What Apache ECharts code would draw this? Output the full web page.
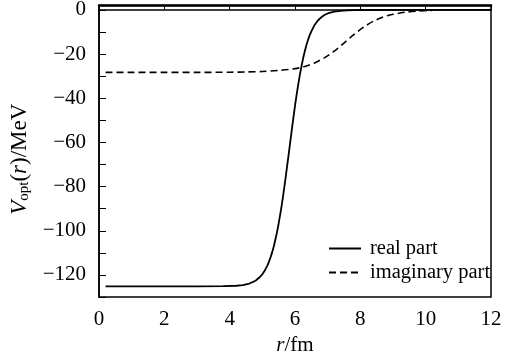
<!DOCTYPE html>
<html>
<head>
<meta charset="utf-8">
<script src="https://cdn.jsdelivr.net/npm/echarts@6/dist/echarts.min.js"></script>
<style>
  html, body { margin: 0; padding: 0; background: #fff; }
  #chart { width: 508px; height: 356px; }
</style>
</head>
<body>
<div id="chart"></div>
<script>
// real part of the optical potential
const rReal = [0.2, 1, 2, 3, 3.8, 4.2, 4.4, 4.6, 4.7, 4.8, 4.9, 5.0, 5.05, 5.1, 5.15, 5.2, 5.25, 5.3, 5.35, 5.4, 5.45, 5.5, 5.55, 5.6, 5.65, 5.7, 5.75, 5.8, 5.85, 5.9, 5.95, 6.0, 6.05, 6.1, 6.15, 6.2, 6.25, 6.3, 6.35, 6.4, 6.45, 6.5, 6.6, 6.7, 6.8, 6.9, 7.0, 7.2, 7.4, 7.6, 7.8, 8.0, 9, 10, 11, 12];
const vReal = [-125.2, -125.2, -125.2, -125.2, -125.1, -124.9, -124.6, -123.9, -123.3, -122.5, -121.3, -119.7, -118.6, -117.3, -115.9, -114.1, -112.1, -109.8, -107.1, -104.0, -100.6, -96.7, -92.4, -87.8, -82.7, -77.4, -71.8, -66.1, -60.3, -54.5, -48.9, -43.5, -38.4, -33.7, -29.3, -25.4, -21.8, -18.7, -15.9, -13.5, -11.4, -9.7, -6.8, -4.8, -3.4, -2.3, -1.6, -0.8, -0.4, -0.2, -0.1, -0.04, 0, 0, 0, 0];

// imaginary part
const rImag = [0.2, 1, 2, 3, 4, 4.5, 5, 5.5, 6, 6.3, 6.6, 6.9, 7.2, 7.5, 7.8, 8.1, 8.4, 8.7, 9.0, 9.4, 9.8, 10.2];
const vImag = [-28.3, -28.3, -28.3, -28.3, -28.2, -28.1, -27.9, -27.4, -26.6, -25.6, -24.0, -21.7, -18.7, -15.0, -11.2, -7.8, -5.1, -3.2, -2.0, -1.0, -0.5, -0.2];

const seriesNames = ["real part", "imaginary part"];

const font = "Liberation Serif, Times New Roman, serif";
const pair = (xs, ys) => xs.map((x, i) => [x, ys[i]]);

const chart = echarts.init(document.getElementById("chart"));
chart.setOption({
  animation: false,
  textStyle: { fontFamily: font, color: "#000" },
  grid: {
    left: 99, right: 17, top: 5.5, bottom: 59,
    containLabel: false, outerBoundsMode: "none",
    show: true, borderColor: "#000", borderWidth: 1.5,
  },
  legend: {
    orient: "vertical",
    left: 323, top: 233,
    itemWidth: 32, itemHeight: 10, itemGap: 3,
    itemStyle: { opacity: 0 },
    textStyle: { fontFamily: font, fontSize: 20.5, color: "#000", padding: [0, 0, 0, 4] },
    data: seriesNames,
  },
  xAxis: [
    {
      type: "value", min: 0, max: 12, interval: 2,
      name: "{i|r}/fm",
      nameLocation: "middle", nameGap: 36,
      nameTextStyle: {
        fontFamily: font, fontSize: 21, color: "#000",
        rich: { i: { fontFamily: font, fontStyle: "italic", fontSize: 21 } },
      },
      axisLine: { show: true, lineStyle: { color: "#000", width: 1.6 } },
      axisTick: { show: true, inside: true, length: 5, lineStyle: { color: "#000" } },
      axisLabel: { fontFamily: font, fontSize: 21, color: "#000", margin: 12 },
      splitLine: { show: false },
    },
    {
      type: "value", min: 0, max: 12, position: "top",
      axisLine: { show: true, lineStyle: { color: "#000", width: 2.5 } },
      axisTick: { show: false }, axisLabel: { show: false }, splitLine: { show: false },
    },
  ],
  yAxis: {
    type: "value", min: -130, max: 2, interval: 10,
    name: "{i|V}{sub|opt}({i|r})/MeV",
    nameLocation: "middle", nameGap: 65, nameRotate: 90,
    nameTextStyle: {
      fontFamily: font, fontSize: 23, color: "#000", padding: [0, 16, 0, 0],
      rich: {
        i: { fontFamily: font, fontStyle: "italic", fontSize: 23 },
        sub: { fontFamily: font, fontSize: 15, verticalAlign: "bottom", padding: [9, 0, 0, 0] },
      },
    },
    axisLine: { show: true, lineStyle: { color: "#000", width: 1.5 } },
    axisTick: { show: true, inside: true, length: 7, lineStyle: { color: "#000" } },
    axisLabel: {
      fontFamily: font, fontSize: 21, color: "#000", margin: 13,
      formatter: (v) => (v % 20 === 0 ? String(v).replace("-", "\u2212") : ""),
    },
    splitLine: { show: false },
  },
  series: [
    {
      name: seriesNames[0], type: "line", symbol: "none",
      data: pair(rReal, vReal),
      lineStyle: { color: "#000", width: 1.8 },
      itemStyle: { color: "#000" },
    },
    {
      name: seriesNames[1], type: "line", symbol: "none",
      smooth: 0.3,
      data: pair(rImag, vImag),
      lineStyle: { color: "#000", width: 1.6, type: [7, 4] },
      itemStyle: { color: "#000" },
    },
  ],
});
</script>
</body>
</html>
